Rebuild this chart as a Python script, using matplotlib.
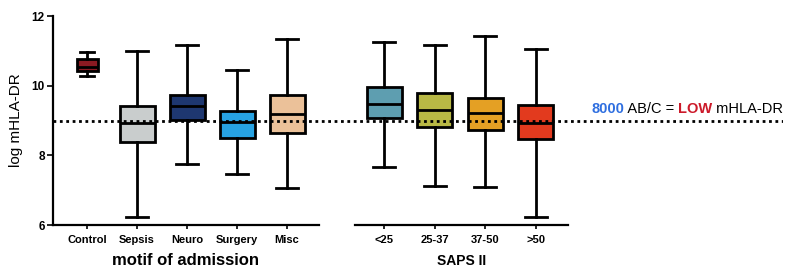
import numpy as np
import matplotlib
matplotlib.use('Agg')
import matplotlib.pyplot as plt

plt.rcParams['font.family'] = ['Liberation Sans', 'DejaVu Sans']

# motif of admission groups: [low whisker, Q1, median, Q3, high whisker]
motif_labels = ['Control', 'Sepsis', 'Neuro', 'Surgery', 'Misc']
motif_low = [10.29, 6.22, 7.75, 7.45, 7.05]
motif_q1 = [10.43, 8.39, 9.01, 8.51, 8.63]
motif_med = [10.55, 8.94, 9.42, 8.97, 9.19]
motif_q3 = [10.76, 9.42, 9.74, 9.28, 9.73]
motif_high = [10.97, 11.0, 11.17, 10.45, 11.33]
motif_colors = ['#8B1A22', '#C9CDCD', '#1E3770', '#27A2E2', '#EBC199']

# SAPS II groups
saps_labels = ['<25', '25-37', '37-50', '>50']
saps_low = [7.66, 7.12, 7.10, 6.24]
saps_q1 = [9.06, 8.82, 8.73, 8.46]
saps_med = [9.47, 9.30, 9.22, 8.94]
saps_q3 = [9.95, 9.78, 9.64, 9.44]
saps_high = [11.24, 11.17, 11.43, 11.05]
saps_colors = ['#5E9EB0', '#B8B845', '#E4A024', '#E23A1E']

threshold = 9.0


def make_stats(labels, low, q1, med, q3, high):
    return [dict(label=l, whislo=a, q1=b, med=c, q3=d, whishi=e, fliers=[])
            for l, a, b, c, d, e in zip(labels, low, q1, med, q3, high)]


def draw_boxes(ax, stats, colors, widths):
    lw = 2.0
    pos = np.arange(1, len(stats) + 1)
    bp = ax.bxp(stats, positions=pos, widths=widths, patch_artist=True,
                showfliers=False,
                boxprops=dict(linewidth=lw, edgecolor='black'),
                medianprops=dict(linewidth=lw, color='black'),
                whiskerprops=dict(linewidth=lw, color='black'),
                capprops=dict(linewidth=lw, color='black'),
                capwidths=[w * 0.62 for w in widths])
    for patch, c in zip(bp['boxes'], colors):
        patch.set_facecolor(c)
    ax.set_xticks(pos)
    ax.set_xticklabels([s['label'] for s in stats], fontweight='bold', fontsize=8)
    ax.tick_params(axis='x', length=3, width=1.2, pad=4)
    ax.set_ylim(6, 12)
    for side in ['top', 'right']:
        ax.spines[side].set_visible(False)
    ax.spines['bottom'].set_linewidth(1.6)
    ax.spines['left'].set_linewidth(1.6)


fig = plt.figure(figsize=(7.97, 2.79), dpi=100)
W, H = 797, 279

bottom = 1 - 225 / H
height = (225 - 16) / H

ax1 = fig.add_axes([53 / W, bottom, (319 - 53) / W, height])
ax2 = fig.add_axes([355 / W, bottom, (568 - 355) / W, height])
ov = fig.add_axes([53 / W, bottom, (783 - 53) / W, height])

draw_boxes(ax1, make_stats(motif_labels, motif_low, motif_q1, motif_med, motif_q3, motif_high),
           motif_colors, [0.42, 0.7, 0.7, 0.7, 0.7])
ax1.set_xlim(0.32, 5.64)
ax1.set_yticks([6, 8, 10, 12])
ax1.set_yticklabels(['6', '8', '10', '12'], fontweight='bold', fontsize=8.5)
ax1.tick_params(axis='y', length=4, width=1.2, pad=2)
ax1.set_ylabel('log mHLA-DR', fontsize=11, labelpad=6)
ax1.set_xlabel('motif of admission', fontsize=12, fontweight='bold', labelpad=6)

draw_boxes(ax2, make_stats(saps_labels, saps_low, saps_q1, saps_med, saps_q3, saps_high),
           saps_colors, [0.7] * 4)
ax2.set_xlim(0.42, 4.64)
ax2.spines['left'].set_visible(False)
ax2.set_yticks([])
ax2.set_xlabel('SAPS II', fontsize=10, fontweight='bold', labelpad=7)

# threshold line overlay
ov.set_xlim(0, 1)
ov.set_ylim(6, 12)
ov.axis('off')
ov.patch.set_alpha(0)
ov.axhline(threshold, color='black', linewidth=2, linestyle=(0, (1, 1.3)))

fs = 10.5
t1 = ov.text(0.737, threshold + 0.12, '8000', color='#2F6FE0', fontsize=fs,
             fontweight='bold', ha='left', va='bottom')
t2 = ov.annotate(' AB/C = ', xy=(1, 0), xycoords=t1, fontsize=fs,
                 ha='left', va='bottom')
t3 = ov.annotate('LOW', xy=(1, 0), xycoords=t2, fontsize=fs, fontweight='bold',
                 color='#CC1A2A', ha='left', va='bottom')
ov.annotate(' mHLA-DR', xy=(1, 0), xycoords=t3, fontsize=fs,
            ha='left', va='bottom')

fig.savefig('out.png', dpi=100)
